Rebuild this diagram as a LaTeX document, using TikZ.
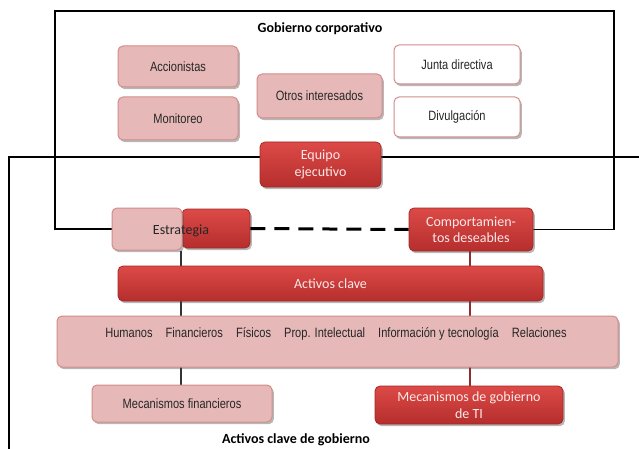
\documentclass[tikz,border=0pt]{standalone}
\usepackage{fontspec}
\setmainfont{Carlito}
\newfontfamily\narrowsf{Liberation Sans}[FakeStretch=0.82]
\usetikzlibrary{shadows}
\pgfdeclarelayer{bg}
\pgfsetlayers{bg,main}

\definecolor{lightfill}{HTML}{E6B9B8}
\definecolor{lightedge}{HTML}{D38C8B}
\definecolor{redtop}{HTML}{DC4A47}
\definecolor{redbot}{HTML}{B52E2D}
\definecolor{rededge}{HTML}{A32826}
\definecolor{redtext}{HTML}{FBE9E8}
\definecolor{darktext}{HTML}{262626}
\definecolor{linkred}{HTML}{8E2E2E}

\tikzset{
  base/.style={rounded corners=5pt, inner sep=0pt, align=center,
    drop shadow={shadow xshift=1.8pt, shadow yshift=-2.2pt, opacity=0.4, fill=black!70}},
  lightbox/.style={base, fill=lightfill, draw=lightedge, line width=1pt,
    text=darktext, font=\narrowsf\fontsize{13.5}{16}\selectfont},
  whitebox/.style={lightbox, fill=white},
  redbox/.style={base, draw=rededge, line width=0.8pt, top color=redtop,
    bottom color=redbot, text=redtext, font=\fontsize{14}{16.5}\selectfont},
  sz/.style 2 args={minimum width=#1, minimum height=#2},
  frame/.style={line width=1.2pt, black},
  title/.style={font=\bfseries\fontsize{14}{16}\selectfont, text=black}
}

\begin{document}
\begin{tikzpicture}[x=1pt, y=-1pt]
\useasboundingbox (0,0) rectangle (639,449);

% fixed points of the two frames
\coordinate (tl) at (55,11);
\coordinate (tr) at (614,11);
\coordinate (ftop) at (0,157);
\coordinate (fleft) at (9,449);
\coordinate (fright) at (639,157);
\coordinate (lx) at (181,0);
\coordinate (rx) at (470,0);

% corporate governance area
\node[title] (gc) at (320,29) {Gobierno corporativo};
\node[lightbox, sz={120pt}{41pt}] (acc) at (178,66.5) {Accionistas};
\node[lightbox, sz={120pt}{43pt}] (mon) at (178,118.5) {Monitoreo};
\node[lightbox, sz={125pt}{44pt}] (otros) at (319.5,96) {Otros interesados};
\node[whitebox, sz={126pt}{39pt}] (junta) at (457,64.5) {Junta directiva};
\node[whitebox, sz={126pt}{40pt}] (divul) at (457,117) {Divulgación};
\node[redbox, sz={121pt}{45pt}] (equipo) at (320.5,164.5) {Equipo\\ejecutivo};

% strategy and desirable behaviour
\node[redbox, sz={68pt}{39pt}] (estrR) at (216,228.5) {};
\node[lightbox, sz={70pt}{42pt}] (estrL) at (147,229) {};
\node[font=\fontsize{14}{16}\selectfont, text=darktext] (estrT) at (181,231) {Estrategia};
\node[redbox, sz={124pt}{43pt}] (comp) at (471,229.5) {Comportamien-\\tos deseables};

% key assets
\node[redbox, sz={425pt}{35pt}] (activos) at (330.5,283.5) {Activos clave};
\node[lightbox, sz={561pt}{51pt}] (assets) at (337.5,341.5) {};
\node[text=darktext, font=\narrowsf\fontsize{13.5}{16}\selectfont] (assetsT) at (336,334)
  {Humanos\hspace{10pt} Financieros\hspace{10pt} Físicos\hspace{10pt} Prop. Intelectual\hspace{10pt} Información y tecnología\hspace{10pt} Relaciones};

% mechanisms
\node[lightbox, sz={180pt}{37pt}] (mecfin) at (182,403.5) {Mecanismos financieros};
\node[redbox, sz={188pt}{38pt}] (mecti) at (469,405) {Mecanismos de gobierno\\de TI};
\node[title] (akg) at (296,440) {Activos clave de gobierno};

\begin{pgfonlayer}{bg}
  % corporate governance frame
  \draw[frame] (estrL.west) -- (estrL.west -| tl) -- (tl) -- (tr) |- (comp.east);
  % key asset governance frame
  \draw[frame] (ftop -| equipo.west) -| (fleft);
  \draw[frame] (ftop -| equipo.east) -- (fright);
  % vertical links
  \draw[line width=1.2pt, black!80] (lx |- estrL.south) -- (lx |- mecfin.north);
  \draw[line width=2.2pt, linkred] (rx |- comp.south) -- (rx |- mecti.north);
\end{pgfonlayer}

% strategy to behaviour
\draw[line width=3pt, dash pattern=on 15pt off 9pt] (estrR.east) -- (comp.west);
\end{tikzpicture}
\end{document}
